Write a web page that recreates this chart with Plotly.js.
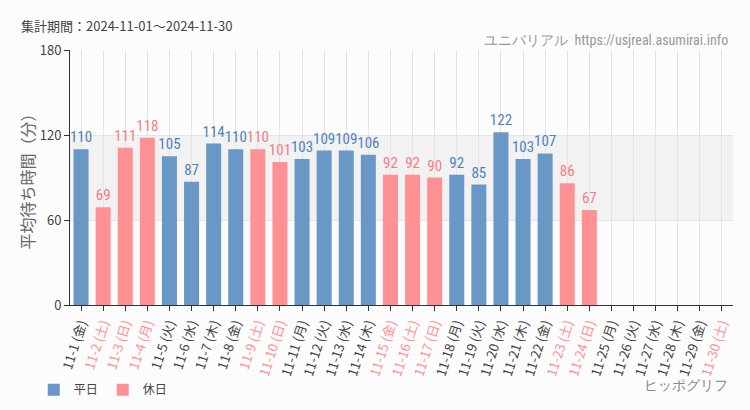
<!DOCTYPE html>
<html><head><meta charset="utf-8">
<script src="https://cdn.plot.ly/plotly-3.0.1.min.js"></script>
<style>body{margin:0;background:#fbfcfb;}#c{width:750px;height:410px;}</style>
</head><body><div id="c"></div>
<script>
const dates = ["11-1","11-2","11-3","11-4","11-5","11-6","11-7","11-8","11-9","11-10","11-11","11-12","11-13","11-14","11-15","11-16","11-17","11-18","11-19","11-20","11-21","11-22","11-23","11-24","11-25","11-26","11-27","11-28","11-29","11-30"];
const weekdays = ["金","土","日","月","火","水","木","金","土","日","月","火","水","木","金","土","日","月","火","水","木","金","土","日","月","火","水","木","金","土"];
const isHoliday = [0,1,1,1,0,0,0,0,1,1,0,0,0,0,1,1,1,0,0,0,0,0,1,1,0,0,0,0,0,1];
const heijitsu = [110,null,null,null,105,87,114,110,null,null,103,109,109,106,null,null,null,92,85,122,103,107,null,null,null,null,null,null,null,null];
const kyujitsu = [null,69,111,118,null,null,null,null,110,101,null,null,null,null,92,92,90,null,null,null,null,null,86,67,null,null,null,null,null,null];

const cats = dates.map((d,i)=>d+" ("+weekdays[i]+")");
const ticktext = cats.map((c,i)=> isHoliday[i] ? '<span style="color:#ff8f93">'+c+'</span>' : c);
const blue = "#6a98c6", pink = "#ff9194";
const lblFont = "'Liberation Sans Narrow','Roboto Condensed',Roboto,sans-serif";

const traces = [
 {type:"bar", name:"平日", x:cats, y:heijitsu, marker:{color:blue},
  text:heijitsu.map(v=>v==null?"":String(v)), textposition:"outside", cliponaxis:false, constraintext:"none",
  textfont:{color:"#4f82b8", size:15, family:lblFont}, hoverinfo:"skip"},
 {type:"bar", name:"休日", x:cats, y:kyujitsu, marker:{color:pink},
  text:kyujitsu.map(v=>v==null?"":String(v)), textposition:"outside", cliponaxis:false, constraintext:"none",
  textfont:{color:"#f57c82", size:15, family:lblFont}, hoverinfo:"skip"}
];

const layout = {
 width:750, height:410,
 margin:{l:70, r:17, t:50, b:105, autoexpand:false},
 paper_bgcolor:"#fbfcfb", plot_bgcolor:"#fbfcfb",
 barmode:"overlay", bargap:0.32,
 font:{family:"'Noto Sans CJK JP','Noto Sans',sans-serif", color:"#444"},
 showlegend:true,
 legend:{orientation:"h", x:0.045, xanchor:"left", xref:"container", y:0.085, yref:"container", yanchor:"top",
   font:{size:12, color:"#444"}, traceorder:"normal", bgcolor:"rgba(0,0,0,0)", itemwidth:30},
 xaxis:{type:"category", tickvals:cats, ticktext:ticktext, tickangle:-72,
   tickfont:{size:13, color:"#444"}, showgrid:true, gridcolor:"#e4e4e4", automargin:false,
   showline:true, linecolor:"#333", ticks:"outside", ticklen:5, tickcolor:"#333",
   range:[-0.5,29.5], fixedrange:true},
 yaxis:{range:[0,180], tickvals:[0,60,120,180], tickfont:{size:13, color:"#444"},
   showgrid:true, gridcolor:"#e4e4e4", zeroline:false, automargin:false,
   showline:true, linecolor:"#333", ticks:"outside", ticklen:5, tickcolor:"#333"},
 shapes:[{type:"rect", xref:"paper", yref:"y", x0:0, x1:1, y0:60, y1:120,
   fillcolor:"#f2f2f2", line:{width:0}, layer:"below"}],
 annotations:[
  {text:"平均待ち時間（分）", xref:"paper", yref:"paper", x:-0.065, xanchor:"center",
   y:0.5, yanchor:"middle", textangle:-90, showarrow:false, font:{size:16, color:"#666"}},
  {text:"集計期間：2024-11-01～2024-11-30", xref:"paper", yref:"paper", x:-0.077, xanchor:"left",
   y:1.098, yanchor:"middle", showarrow:false, font:{size:13, color:"#444"}},
  {text:"ユニバリアル  https://usjreal.asumirai.info", xref:"paper", yref:"paper",
   x:0.995, xanchor:"right", y:1.04, yanchor:"middle", showarrow:false,
   font:{size:14, color:"#999", family:lblFont}},
  {text:"ヒッポグリフ", xref:"paper", yref:"paper", x:0.995, xanchor:"right",
   y:-0.314, yanchor:"middle", showarrow:false, font:{size:14, color:"#888", family:lblFont}}
 ]
};
Plotly.newPlot("c", traces, layout, {displayModeBar:false, staticPlot:true});
</script></body></html>
